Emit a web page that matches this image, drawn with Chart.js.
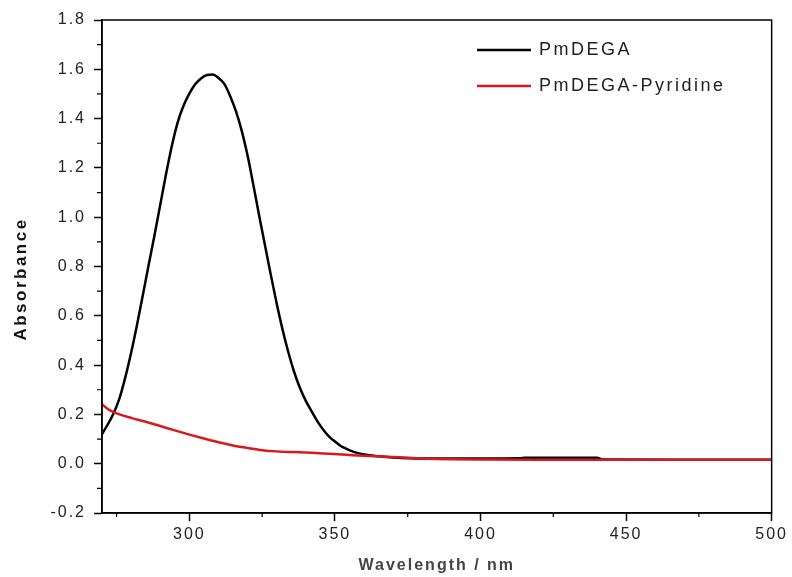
<!DOCTYPE html>
<html>
<head>
<meta charset="utf-8">
<script src="https://cdn.jsdelivr.net/npm/chart.js@4/dist/chart.umd.min.js"></script>
<style>
  body { margin: 0; background: #fff; }
  #wrap { width: 792px; height: 577px; }
</style>
</head>
<body>
<div id="wrap"><canvas id="uvChart" width="792" height="577"></canvas></div>
<script>
// UV-vis absorbance spectra

const pmdegaWavelength = [270, 272, 274, 276, 278, 280, 282, 284, 286, 288, 290, 292, 294, 296, 298, 300,
  302, 304, 306, 308, 310, 312, 314, 316, 318, 320, 322, 324, 326, 328, 330, 332, 334, 336, 338, 340,
  342, 344, 346, 348, 350, 352, 354, 356, 358, 360, 365, 370, 380, 390, 400, 414, 415, 440, 442, 470, 500];
const pmdegaAbs = [0.12, 0.16, 0.205, 0.265, 0.35, 0.45, 0.562, 0.682, 0.805, 0.925, 1.05, 1.175, 1.29, 1.385, 1.452, 1.501,
  1.539, 1.563, 1.577, 1.579, 1.565, 1.541, 1.492, 1.43, 1.35, 1.25, 1.13, 1.005, 0.885, 0.765, 0.65, 0.545,
  0.452, 0.372, 0.307, 0.255, 0.212, 0.172, 0.138, 0.11, 0.09, 0.072, 0.06, 0.05, 0.043, 0.037, 0.03, 0.025,
  0.021, 0.021, 0.021, 0.022, 0.024, 0.024, 0.017, 0.016, 0.016];

const pyridineWavelength = [270, 272, 274, 276, 280, 285, 290, 295, 300, 305, 310, 315, 320, 325, 330, 336,
  342, 348, 354, 360, 366, 372, 380, 390, 400, 420, 460, 500];
const pyridineAbs = [0.241, 0.222, 0.209, 0.2, 0.186, 0.17, 0.153, 0.135, 0.118, 0.102, 0.087, 0.074, 0.064,
  0.055, 0.05, 0.047, 0.044, 0.04, 0.036, 0.032, 0.029, 0.026, 0.021, 0.018, 0.017, 0.016, 0.016, 0.016];

const xTicks = [300, 350, 400, 450, 500];
const xMinorTicks = [275, 325, 375, 425, 475];
const yTicks = [-0.2, 0, 0.2, 0.4, 0.6, 0.8, 1.0, 1.2, 1.4, 1.6, 1.8];
const yMinorTicks = [-0.1, 0.1, 0.3, 0.5, 0.7, 0.9, 1.1, 1.3, 1.5, 1.7];

const seriesLabels = ['PmDEGA', 'PmDEGA-Pyridine'];
const seriesColors = ['#000000', '#d81a1f'];

const toPoints = (xs, ys) => xs.map((x, i) => ({ x: x, y: ys[i] }));

// canvas resets its state on resize, so spacing is set again before layout and draw
const spacingPlugin = {
  id: 'spacing',
  beforeLayout(chart) { chart.ctx.letterSpacing = '2px'; },
  beforeDraw(chart) { chart.ctx.letterSpacing = '2px'; }
};

const framePlugin = {
  id: 'frame',
  afterDraw(chart) {
    const ctx = chart.ctx;
    const area = chart.chartArea;
    const xs = chart.scales.x;
    const ys = chart.scales.y;
    ctx.save();
    ctx.strokeStyle = '#000';
    ctx.lineWidth = 1.5;
    ctx.strokeRect(area.left, area.top, area.right - area.left, area.bottom - area.top);

    // minor ticks
    ctx.lineWidth = 1.2;
    ctx.beginPath();
    xMinorTicks.forEach(v => {
      const px = xs.getPixelForValue(v);
      ctx.moveTo(px, area.bottom);
      ctx.lineTo(px, area.bottom + 4);
    });
    yMinorTicks.forEach(v => {
      const py = ys.getPixelForValue(v);
      ctx.moveTo(area.left, py);
      ctx.lineTo(area.left - 5, py);
    });
    ctx.stroke();

    // y axis title
    ctx.letterSpacing = '2.5px';
    ctx.fillStyle = '#111';
    ctx.font = 'bold 17px "Liberation Sans", Arial, sans-serif';
    ctx.textAlign = 'center';
    ctx.textBaseline = 'middle';
    ctx.translate(21, 279);
    ctx.rotate(-Math.PI / 2);
    ctx.fillText('Absorbance', 0, 0);
    ctx.restore();

    // legend inside the plot, top right
    ctx.save();
    ctx.letterSpacing = '2.5px';
    ctx.font = '18px "Liberation Sans", Arial, sans-serif';
    ctx.textBaseline = 'middle';
    ctx.textAlign = 'left';
    chart.data.datasets.forEach((ds, i) => {
      const y = 50 + i * 36;
      ctx.strokeStyle = ds.borderColor;
      ctx.lineWidth = 2.5;
      ctx.beginPath();
      ctx.moveTo(477, y);
      ctx.lineTo(531, y);
      ctx.stroke();
      ctx.fillStyle = '#222';
      ctx.fillText(ds.label, 539, y);
    });
    ctx.restore();
  }
};

const tickFont = { family: '"Liberation Sans", Arial, sans-serif', size: 16 };

const ctx = document.getElementById('uvChart');
new Chart(ctx, {
  type: 'line',
  data: {
    datasets: [
      {
        label: seriesLabels[0],
        data: toPoints(pmdegaWavelength, pmdegaAbs),
        borderColor: seriesColors[0],
        borderWidth: 2.5,
        pointRadius: 0,
        cubicInterpolationMode: 'monotone',
        fill: false,
        order: 1
      },
      {
        label: seriesLabels[1],
        data: toPoints(pyridineWavelength, pyridineAbs),
        borderColor: seriesColors[1],
        borderWidth: 2.5,
        pointRadius: 0,
        cubicInterpolationMode: 'monotone',
        fill: false,
        order: 0
      }
    ]
  },
  options: {
    responsive: false,
    animation: false,
    layout: { padding: { top: 20, right: 19, left: 0, bottom: 0 } },
    plugins: {
      legend: { display: false },
      tooltip: { enabled: false }
    },
    scales: {
      x: {
        type: 'linear',
        min: 270,
        max: 500,
        afterBuildTicks: scale => { scale.ticks = xTicks.map(v => ({ value: v })); },
        afterFit: scale => { scale.height = 64; },
        border: { display: true, color: '#000', width: 1.5 },
        grid: { drawOnChartArea: false, tickLength: 8, color: '#000', tickWidth: 1.5 },
        ticks: { color: '#222', font: tickFont, padding: 4, maxRotation: 0 },
        title: {
          display: true,
          text: 'Wavelength / nm',
          color: '#444',
          font: { family: '"Liberation Sans", Arial, sans-serif', size: 16, weight: 'bold' },
          padding: { top: 0, bottom: 2 }
        }
      },
      y: {
        min: -0.2,
        max: 1.8,
        afterBuildTicks: scale => { scale.ticks = yTicks.map(v => ({ value: v })); },
        afterFit: scale => { scale.width = 102; },
        border: { display: true, color: '#000', width: 1.5 },
        grid: { drawOnChartArea: false, tickLength: 8, color: '#000', tickWidth: 1.5 },
        ticks: {
          color: '#222',
          font: tickFont,
          padding: 8,
          callback: v => v.toFixed(1)
        }
      }
    }
  },
  plugins: [spacingPlugin, framePlugin]
});
</script>
</body>
</html>
